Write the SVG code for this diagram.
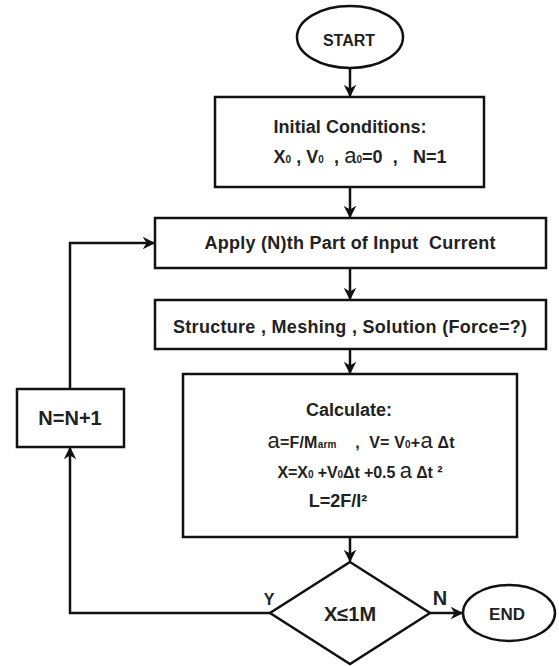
<svg xmlns="http://www.w3.org/2000/svg" width="559" height="666" viewBox="0 0 559 666">
<style>
.s{fill:#fff;stroke:#111;stroke-width:2.5}
.t{font-family:"Liberation Sans",Arial,sans-serif;font-weight:bold;font-size:18px;fill:#222;text-anchor:middle;white-space:pre}
.m{font-size:16px}
.a{font-weight:normal;font-size:22px}
.sub{font-size:10px}
.c{fill:none;stroke:#111;stroke-width:2.5}
</style>
<defs>
<marker id="ah" viewBox="0 0 10 10" refX="9" refY="5" markerWidth="5" markerHeight="5" orient="auto" markerUnits="strokeWidth">
<path d="M0,0 L10,5 L0,10 L3,5 z" fill="#111"/>
</marker>
</defs>
<g id="connectors">
<line class="c" x1="350" y1="68" x2="350" y2="96" marker-end="url(#ah)"/>
<line class="c" x1="350" y1="187" x2="350" y2="217" marker-end="url(#ah)"/>
<line class="c" x1="350" y1="268" x2="350" y2="299" marker-end="url(#ah)"/>
<line class="c" x1="350" y1="349" x2="350" y2="373" marker-end="url(#ah)"/>
<line class="c" x1="350" y1="537" x2="350" y2="561" marker-end="url(#ah)"/>
<line class="c" x1="430" y1="613" x2="462" y2="613" marker-end="url(#ah)"/>
<polyline class="c" points="270,613 70,613 70,448" marker-end="url(#ah)"/>
<polyline class="c" points="70,389 70,243 154,243" marker-end="url(#ah)"/>
<text class="t" x="269" y="605" style="font-size:16px">Y</text>
<text class="t" x="440" y="605" style="font-size:20px">N</text>
</g>
<g id="start">
<ellipse class="s" cx="350" cy="37" rx="53" ry="31"/>
<text class="t" x="349" y="46" style="font-size:16px">START</text>
</g>
<g id="initial">
<rect class="s" x="215" y="97" width="269" height="90"/>
<text class="t" x="350" y="133" textLength="153">Initial Conditions:</text>
<text class="t" x="360" y="163" textLength="173">X<tspan class="sub">0</tspan> , V<tspan class="sub">0</tspan>  , <tspan class="a">a</tspan><tspan class="sub">0</tspan>=0  ,   N=1</text>
</g>
<g id="apply">
<rect class="s" x="155" y="218" width="391" height="50"/>
<text class="t" x="350" y="249" textLength="291">Apply (N)th Part of Input  Current</text>
</g>
<g id="structure">
<rect class="s" x="155" y="300" width="391" height="49"/>
<text class="t" x="350" y="333" textLength="354">Structure , Meshing , Solution (Force=?)</text>
</g>
<g id="calculate">
<rect class="s" x="183" y="374" width="334" height="163"/>
<text class="t" x="349" y="416" textLength="86">Calculate:</text>
<text class="t m" x="361" y="448" textLength="187"><tspan class="a">a</tspan>=F/M<tspan class="sub">arm</tspan>    ,  V= V<tspan class="sub">0</tspan>+<tspan class="a">a</tspan> Δt</text>
<text class="t m" x="360" y="478" textLength="165">X=X<tspan class="sub">0</tspan> +V<tspan class="sub">0</tspan>Δt +0.5 <tspan class="a">a</tspan> Δt ²</text>
<text class="t" x="338" y="507">L=2F/I²</text>
</g>
<g id="increment">
<rect class="s" x="17" y="389" width="107" height="58"/>
<text class="t" x="70" y="425" style="font-size:20px">N=N+1</text>
</g>
<g id="decision">
<polygon class="s" points="350,562 430,613 350,664 270,613"/>
<text class="t" x="350" y="621" style="font-size:20px">X≤1M</text>
</g>
<g id="end">
<ellipse class="s" cx="509" cy="613" rx="46" ry="28"/>
<text class="t" x="507" y="620" style="font-size:17px">END</text>
</g>
</svg>
